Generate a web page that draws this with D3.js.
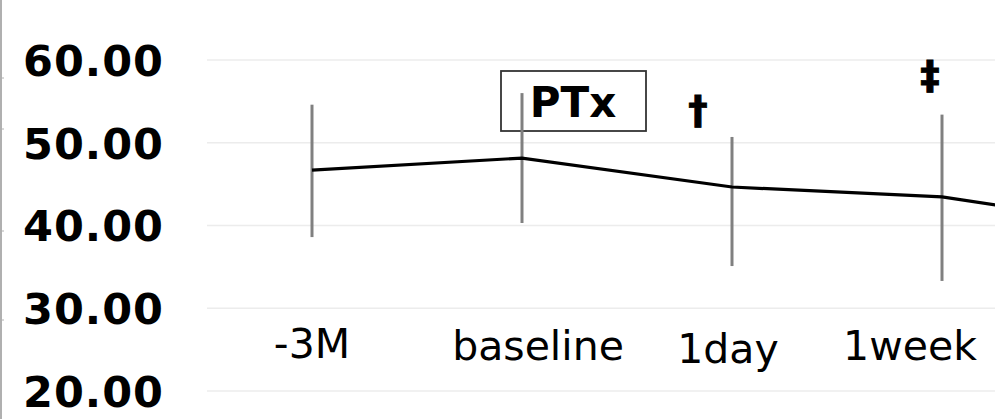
<!DOCTYPE html>
<html>
<head>
<meta charset="utf-8">
<script src="https://cdn.jsdelivr.net/npm/d3@7"></script>
<style>
  html, body { margin: 0; padding: 0; background: #ffffff; }
  svg { display: block; }
</style>
</head>
<body>
<svg id="chart" width="995" height="419"></svg>
<script>
// ---- data ----
const categories = ["-3M", "baseline", "1day", "1week", ""];
const meanValues = [46.7, 48.15, 44.65, 43.45, 39.6];
const upperValues = [54.6, 56.0, 50.7, 53.4, 47.0];
const lowerValues = [38.6, 40.3, 35.1, 33.3, 32.0];
const yTicks = [20, 30, 40, 50, 60];
const annotations = [
  { category: "1day", text: "\u2020" },
  { category: "1week", text: "\u2021" }
];
const boxLabel = "PTx";

// ---- layout ----
const W = 995, H = 419;
const svg = d3.select("#chart");

const x = d3.scalePoint().domain(categories).range([312, 1152]);
const y = d3.scaleLinear().domain([20, 60]).range([391, 60]);

// label offsets relative to point positions (as placed in reference)
const labelDx = [0, 16, -4, -32, 0];
const labelY = [358, 360, 363, 360, 360];
const annotDx = { "\u2020": -34, "\u2021": -12 };
const annotY = { "\u2020": 123.5, "\u2021": 88.5 };

// left frame line with small ticks
svg.append("line").attr("x1", 1).attr("x2", 1).attr("y1", 0).attr("y2", H)
  .attr("stroke", "#b0b0b0").attr("stroke-width", 2);
[78, 129, 231, 320].forEach(t => {
  svg.append("line").attr("x1", 0).attr("x2", 4).attr("y1", t).attr("y2", t)
    .attr("stroke", "#b0b0b0").attr("stroke-width", 1);
});

// grid lines
svg.append("g").selectAll("line").data(yTicks).join("line")
  .attr("x1", 207).attr("x2", W)
  .attr("y1", d => y(d)).attr("y2", d => y(d))
  .attr("stroke", "#ececec").attr("stroke-width", 1.5);

// y axis labels
const yAxis = d3.axisLeft(y).tickValues(yTicks).tickFormat(d3.format(".2f")).tickSize(0).tickPadding(0);
const gy = svg.append("g").attr("transform", "translate(164,0)").call(yAxis);
gy.select(".domain").remove();
gy.selectAll("text")
  .attr("font-family", "DejaVu Sans")
  .attr("font-weight", "bold")
  .attr("font-size", 43)
  .attr("letter-spacing", 1)
  .attr("fill", "#000")
  .attr("dy", "0.36em");

// PTx box
const bx = x("baseline");
svg.append("rect")
  .attr("x", bx - 21).attr("y", 71).attr("width", 145).attr("height", 60)
  .attr("fill", "#fff").attr("stroke", "#333").attr("stroke-width", 1.8);
svg.append("text")
  .attr("x", bx + 51).attr("y", 117)
  .attr("text-anchor", "middle")
  .attr("font-family", "DejaVu Sans").attr("font-weight", "bold").attr("font-size", 42)
  .attr("fill", "#000").text(boxLabel);

// error bars
svg.append("g").selectAll("line").data(categories).join("line")
  .attr("x1", d => x(d)).attr("x2", d => x(d))
  .attr("y1", (d, i) => y(upperValues[i])).attr("y2", (d, i) => y(lowerValues[i]))
  .attr("stroke", "#808080").attr("stroke-width", 3);

// mean line
const line = d3.line().x((d, i) => x(categories[i])).y(d => y(d));
svg.append("path").datum(meanValues)
  .attr("d", line).attr("fill", "none")
  .attr("stroke", "#000").attr("stroke-width", 3.2);

// category labels
svg.append("g").selectAll("text").data(categories).join("text")
  .attr("x", (d, i) => x(d) + labelDx[i])
  .attr("y", (d, i) => labelY[i])
  .attr("text-anchor", "middle")
  .attr("font-family", "DejaVu Sans").attr("font-size", 41)
  .attr("fill", "#000").text(d => d);

// significance markers
svg.append("g").selectAll("text").data(annotations).join("text")
  .attr("x", d => x(d.category) + annotDx[d.text])
  .attr("y", d => annotY[d.text])
  .attr("text-anchor", "middle")
  .attr("font-family", "DejaVu Sans").attr("font-weight", "bold").attr("font-size", 39)
  .attr("fill", "#000").attr("stroke", "#000").attr("stroke-width", 0.8)
  .text(d => d.text);
</script>
</body>
</html>
